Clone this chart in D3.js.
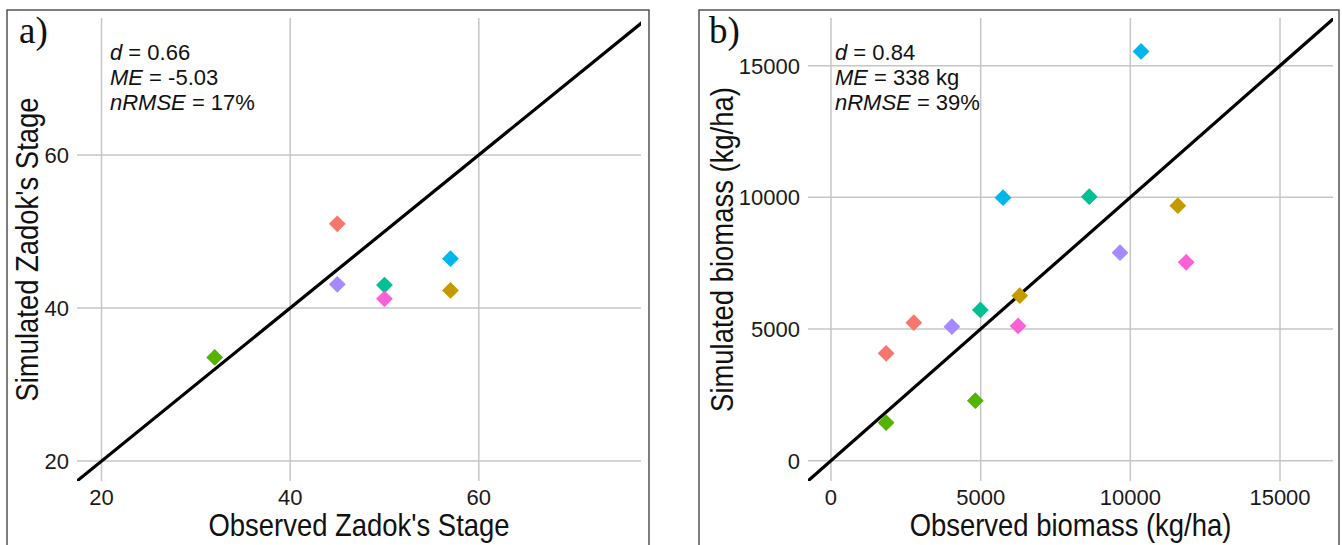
<!DOCTYPE html>
<html><head><meta charset="utf-8">
<script src="https://cdn.jsdelivr.net/npm/d3@7"></script>
<style>body{margin:0;background:#fff} svg{display:block}</style>
</head><body><svg id="c" width="1342" height="545"></svg>
<script>
// ggplot hue palette, one colour per treatment group
const groupColors = ["#F8766D", "#C49A00", "#53B400", "#00C094", "#00B6EB", "#A58AFF", "#FB61D7"];

// Panel a: Zadok's stage
const zadokObserved  = [45, 57, 32, 50, 57, 45, 50];
const zadokSimulated = [51.0, 42.3, 33.55, 43.0, 46.45, 43.1, 41.2];
const zadokGroup     = [0, 1, 2, 3, 4, 5, 6];
const zadokTicks     = [20, 40, 60];
const zadokLimitsX   = [17.4, 77.2];
const zadokLimitsY   = [17.4, 77.9];
const zadokStats     = [["d", " = 0.66"], ["ME", " = -5.03"], ["nRMSE", " = 17%"]];

// Panel b: biomass (kg/ha)
const biomassObserved  = [1842, 2766, 6306, 11587, 1842, 4822, 4990, 8627, 5747, 10358, 4039, 9655, 6249, 11865];
const biomassSimulated = [4079, 5241, 6267, 9685, 1443, 2279, 5724, 10027, 9989, 15540, 5089, 7900, 5116, 7535];
const biomassGroup     = [0, 0, 1, 1, 2, 2, 3, 3, 4, 4, 5, 5, 6, 6];
const biomassTicks     = [0, 5000, 10000, 15000];
const biomassLimitsX   = [-768, 16770];
const biomassLimitsY   = [-771, 16811];
const biomassStats     = [["d", " = 0.84"], ["ME", " = 338 kg"], ["nRMSE", " = 39%"]];

const panels = [
  { tag: "a)", xs: zadokObserved, ys: zadokSimulated, gs: zadokGroup, ticks: zadokTicks,
    limX: zadokLimitsX, limY: zadokLimitsY, stats: zadokStats,
    xTitle: "Observed Zadok's Stage", yTitle: "Simulated Zadok's Stage",
    box: [7, 649], plot: { left: 77, right: 641, top: 18, bottom: 481 },
    tagX: 19, statX: 110, yTitleX: 38 },
  { tag: "b)", xs: biomassObserved, ys: biomassSimulated, gs: biomassGroup, ticks: biomassTicks,
    limX: biomassLimitsX, limY: biomassLimitsY, stats: biomassStats,
    xTitle: "Observed biomass (kg/ha)", yTitle: "Simulated biomass (kg/ha)",
    box: [699, 1339], plot: { left: 808, right: 1333, top: 18, bottom: 481 },
    tagX: 709, statX: 835, yTitleX: 733 }
];

const svg = d3.select("#c");
const sans = "'Liberation Sans', Arial, Helvetica, sans-serif";

panels.forEach((p, i) => {
  const g = svg.append("g");
  const x = d3.scaleLinear().domain(p.limX).range([p.plot.left, p.plot.right]);
  const y = d3.scaleLinear().domain(p.limY).range([p.plot.bottom, p.plot.top]);

  // outer box
  g.append("rect").attr("x", p.box[0]).attr("y", 10)
    .attr("width", p.box[1] - p.box[0]).attr("height", 560)
    .attr("fill", "none").attr("stroke", "#3a3a3a").attr("stroke-width", 1.3);

  // grid
  g.selectAll(".vg").data(p.ticks).join("line")
    .attr("x1", d => x(d)).attr("x2", d => x(d))
    .attr("y1", p.plot.top).attr("y2", p.plot.bottom)
    .attr("stroke", "#c6c6c6").attr("stroke-width", 1.5);
  g.selectAll(".hg").data(p.ticks).join("line")
    .attr("y1", d => y(d)).attr("y2", d => y(d))
    .attr("x1", p.plot.left).attr("x2", p.plot.right)
    .attr("stroke", "#c6c6c6").attr("stroke-width", 1.5);

  // tick labels
  g.selectAll(".xt").data(p.ticks).join("text")
    .attr("x", d => x(d)).attr("y", p.plot.bottom + 24)
    .attr("text-anchor", "middle").attr("font-family", sans).attr("font-size", 22)
    .attr("fill", "#1a1a1a").text(d => d);
  g.selectAll(".yt").data(p.ticks).join("text")
    .attr("x", p.plot.left - 8).attr("y", d => y(d)).attr("dy", "0.36em")
    .attr("text-anchor", "end").attr("font-family", sans).attr("font-size", 22)
    .attr("fill", "#1a1a1a").text(d => d);

  // 1:1 line, clipped to panel
  const cid = "clip" + i;
  svg.append("clipPath").attr("id", cid).append("rect")
    .attr("x", p.plot.left).attr("y", p.plot.top)
    .attr("width", p.plot.right - p.plot.left).attr("height", p.plot.bottom - p.plot.top);
  const lo = Math.min(p.limX[0], p.limY[0]), hi = Math.max(p.limX[1], p.limY[1]);
  g.append("line").attr("clip-path", `url(#${cid})`)
    .attr("x1", x(lo)).attr("y1", y(lo)).attr("x2", x(hi)).attr("y2", y(hi))
    .attr("stroke", "#000").attr("stroke-width", 3.2);

  // points (diamonds)
  const pts = p.xs.map((v, k) => ({ ox: v, sy: p.ys[k], grp: p.gs[k] }));
  const r = 8.4;
  g.selectAll(".pt").data(pts).join("path")
    .attr("d", d => {
      const cx = x(d.ox), cy = y(d.sy);
      return `M${cx},${cy - r}L${cx + r},${cy}L${cx},${cy + r}L${cx - r},${cy}Z`;
    })
    .attr("fill", d => groupColors[d.grp]);

  // stats annotation
  p.stats.forEach((s, k) => {
    const t = g.append("text").attr("x", p.statX).attr("y", 60 + k * 25)
      .attr("font-family", sans).attr("font-size", 22).attr("fill", "#111");
    t.append("tspan").attr("font-style", "italic").text(s[0]);
    t.append("tspan").text(s[1]);
  });

  // panel tag
  g.append("text").attr("x", p.tagX).attr("y", 43)
    .attr("font-family", "'Liberation Serif', 'Times New Roman', serif")
    .attr("font-size", 37).attr("fill", "#111").text(p.tag);

  // axis titles (slightly condensed, tall glyphs as in the reference)
  g.append("text")
    .attr("transform", `translate(${(p.plot.left + p.plot.right) / 2},536) scale(0.9,1)`)
    .attr("text-anchor", "middle").attr("font-family", sans).attr("font-size", 30.5)
    .attr("fill", "#111").text(p.xTitle);
  g.append("text")
    .attr("transform", `translate(${p.yTitleX},${(p.plot.top + p.plot.bottom) / 2}) rotate(-90) scale(0.9,1)`)
    .attr("text-anchor", "middle").attr("font-family", sans).attr("font-size", 30.5)
    .attr("fill", "#111").text(p.yTitle);
});
</script></body></html>
